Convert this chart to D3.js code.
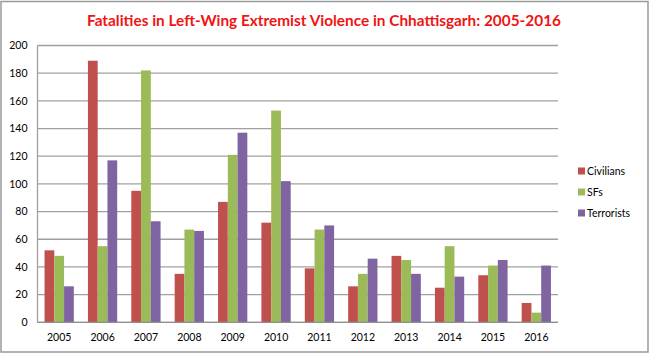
<!DOCTYPE html>
<html>
<head>
<meta charset="utf-8">
<script src="https://cdn.jsdelivr.net/npm/d3@7"></script>
<style>
html,body{margin:0;padding:0;background:#fff;}
svg{display:block;}
</style>
</head>
<body>
<svg id="chart" width="650" height="354"></svg>
<script>
const years = ["2005","2006","2007","2008","2009","2010","2011","2012","2013","2014","2015","2016"];
const seriesNames = ["Civilians","SFs","Terrorists"];
const civilians = [52,189,95,35,87,72,39,26,48,25,34,14];
const sfs = [48,55,182,67,121,153,67,35,45,55,41,7];
const terrorists = [26,117,73,66,137,102,70,46,35,33,45,41];
const yTicks = [0,20,40,60,80,100,120,140,160,180,200];
const colors = ["#C0504D","#9BBB59","#8064A2"];
const titleText = "Fatalities in Left-Wing Extremist Violence in Chhattisgarh: 2005-2016";

const values = [civilians, sfs, terrorists];
const svg = d3.select("#chart");
const font = "Lato, 'Open Sans', sans-serif";

// outer border
svg.append("rect").attr("x",1).attr("y",1.5).attr("width",647).attr("height",350.5)
  .attr("fill","#fff").attr("stroke","#9a9a9a").attr("stroke-width",1.5);

const plot = {left:37.5, right:558, top:45.5, bottom:322.3};

const x = d3.scaleBand().domain(years).range([plot.left, plot.right]).paddingInner(0.325).paddingOuter(0.1625);
const xs = d3.scaleBand().domain(seriesNames).range([0, x.bandwidth()]);
const y = d3.scaleLinear().domain([0,200]).range([plot.bottom, plot.top]);

// gridlines
const grid = svg.append("g");
grid.selectAll("line").data(yTicks).join("line")
  .attr("x1", plot.left).attr("x2", plot.right)
  .attr("y1", d=>y(d)).attr("y2", d=>y(d))
  .attr("stroke","#a0a0a0").attr("stroke-width",1.3);
// left axis line
svg.append("line").attr("x1",plot.left).attr("x2",plot.left).attr("y1",plot.top).attr("y2",plot.bottom)
  .attr("stroke","#a0a0a0").attr("stroke-width",1.3);

// y axis labels
const yAxis = d3.axisLeft(y).tickValues(yTicks).tickSize(0).tickPadding(10);
const gy = svg.append("g").attr("transform",`translate(${plot.left},0)`).call(yAxis);
gy.select(".domain").remove();
gy.selectAll("text").attr("font-family",font).attr("font-size","10.5px").attr("fill","#000");

// x axis labels
const xAxis = d3.axisBottom(x).tickSize(0).tickPadding(11);
const gx = svg.append("g").attr("transform",`translate(0,${plot.bottom})`).call(xAxis);
gx.select(".domain").remove();
gx.selectAll("text").attr("font-family",font).attr("font-size","10.5px").attr("fill","#000");

// bars
const rows = [];
years.forEach((yr,i)=>seriesNames.forEach((s,j)=>rows.push({yr, s, j, v: values[j][i]})));
svg.append("g").selectAll("rect").data(rows).join("rect")
  .attr("x", d=>x(d.yr)+xs(d.s))
  .attr("width", xs.bandwidth())
  .attr("y", d=>y(d.v))
  .attr("height", d=>y(0)-y(d.v))
  .attr("fill", d=>colors[d.j]);

// bottom axis line
svg.append("line").attr("x1",plot.left).attr("x2",plot.right).attr("y1",plot.bottom).attr("y2",plot.bottom)
  .attr("stroke","#909090").attr("stroke-width",1.3);

// legend
const lg = svg.append("g").attr("transform","translate(578,0)");
seriesNames.forEach((s,i)=>{
  const cy = 171 + i*21;
  lg.append("rect").attr("x",0).attr("y",cy-3.5).attr("width",7).attr("height",7).attr("fill",colors[i]);
  lg.append("text").attr("x",9).attr("y",cy).attr("dy","0.35em")
    .attr("font-family",font).attr("font-size","10.5px").attr("fill","#000").text(s);
});

// title
svg.append("text").attr("x",324).attr("y",26).attr("text-anchor","middle")
  .attr("font-family",font).attr("font-weight","bold").attr("font-size","16px")
  .attr("fill","#f01414").attr("textLength",474).attr("lengthAdjust","spacingAndGlyphs")
  .text(titleText);
</script>
</body>
</html>
